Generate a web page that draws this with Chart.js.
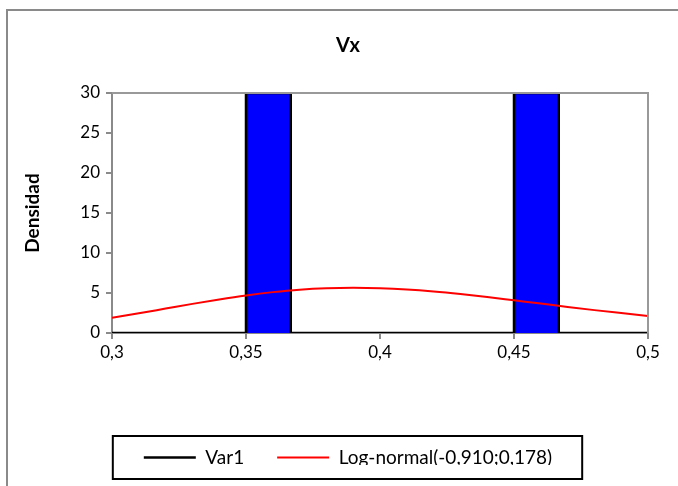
<!DOCTYPE html>
<html>
<head>
<meta charset="utf-8">
<title>Vx</title>
<script src="https://cdn.jsdelivr.net/npm/chart.js@4/dist/chart.umd.min.js"></script>
<style>
  html, body { margin: 0; padding: 0; background: #fff; }
  #wrap { width: 678px; height: 486px; }
</style>
</head>
<body>
<div id="wrap"><canvas id="chart" width="678" height="486"></canvas></div>
<script>
// datos
const xMin = 0.3;
const xMax = 0.5;
const xTickValues = [0.3, 0.35, 0.4, 0.45, 0.5];
const xTickLabels = ['0,3', '0,35', '0,4', '0,45', '0,5'];
const yTickValues = [0, 5, 10, 15, 20, 25, 30];
const yTickLabels = ['0', '5', '10', '15', '20', '25', '30'];

// histograma Var1
const binStarts = [0.35, 0.45];
const binEnds = [0.3667, 0.4667];
const binHeights = [30, 30];

// curva Log-normal(-0,910;0,178)
const curveX = [0.30, 0.31, 0.32, 0.33, 0.34, 0.35, 0.36, 0.37, 0.38, 0.39, 0.40,
                0.41, 0.42, 0.43, 0.44, 0.45, 0.46, 0.47, 0.48, 0.49, 0.50];
const curveY = [1.91, 2.46, 3.05, 3.64, 4.20, 4.70, 5.11, 5.42, 5.60, 5.66, 5.60,
                5.44, 5.19, 4.87, 4.50, 4.09, 3.68, 3.26, 2.86, 2.49, 2.13];

const seriesNames = ['Var1', 'Log-normal(-0,910;0,178)'];

const FONT = 'Lato, "Open Sans", sans-serif';

// contorno escalonado del histograma
const histPoints = [{ x: xMin, y: 0 }];
binStarts.forEach((s, i) => {
  histPoints.push({ x: s, y: 0 });
  histPoints.push({ x: s, y: binHeights[i] });
  histPoints.push({ x: binEnds[i], y: binHeights[i] });
  histPoints.push({ x: binEnds[i], y: 0 });
});
histPoints.push({ x: xMax, y: 0 });

const curvePoints = curveX.map((x, i) => ({ x: x, y: curveY[i] }));

// marco exterior, borde del area y recuadro de la leyenda
const framePlugin = {
  id: 'frame',
  beforeDraw(chart) {
    const ctx = chart.ctx;
    ctx.save();
    ctx.strokeStyle = '#8a8a8a';
    ctx.lineWidth = 2;
    ctx.beginPath();
    ctx.moveTo(7, 486);
    ctx.lineTo(7, 10);
    ctx.lineTo(678, 10);
    ctx.stroke();
    ctx.restore();
  },
  afterDraw(chart) {
    const ctx = chart.ctx;
    const a = chart.chartArea;
    ctx.save();
    ctx.strokeStyle = '#999';
    ctx.lineWidth = 2;
    ctx.beginPath();
    ctx.moveTo(a.left, a.top);
    ctx.lineTo(a.right, a.top);
    ctx.lineTo(a.right, a.bottom);
    ctx.stroke();
    // recuadro leyenda
    const hb = chart.legend.legendHitBoxes;
    if (hb && hb.length) {
      const first = hb[0];
      const last = hb[hb.length - 1];
      const cy = first.top + first.height / 2;
      const left = first.left - 31;
      const right = last.left + last.width + 30;
      ctx.strokeStyle = '#000';
      ctx.lineWidth = 2;
      ctx.strokeRect(left, cy - 21.5, right - left, 43);
    }
    ctx.restore();
  }
};

new Chart(document.getElementById('chart'), {
  type: 'line',
  data: {
    datasets: [
      {
        label: seriesNames[0],
        data: histPoints,
        borderColor: '#000000',
        backgroundColor: '#0000FF',
        borderWidth: 2.5,
        fill: 'origin',
        pointRadius: 0,
        tension: 0,
        pointStyle: 'line',
        order: 1
      },
      {
        label: seriesNames[1],
        data: curvePoints,
        borderColor: '#FF0000',
        backgroundColor: '#FF0000',
        borderWidth: 2,
        fill: false,
        pointRadius: 0,
        cubicInterpolationMode: 'monotone',
        pointStyle: 'line',
        order: 0
      }
    ]
  },
  options: {
    responsive: false,
    animation: false,
    devicePixelRatio: 1,
    layout: { padding: { left: 18, right: 0, top: 0, bottom: 21 } },
    plugins: {
      tooltip: { enabled: false },
      title: {
        display: true,
        text: 'Vx',
        color: '#000',
        font: { family: FONT, size: 20, weight: 'bold' },
        padding: { top: 34, bottom: 35 }
      },
      legend: {
        position: 'bottom',
        maxHeight: 50,
        labels: {
          usePointStyle: true,
          pointStyleWidth: 52,
          padding: 33,
          color: '#000',
          font: { family: FONT, size: 19 },
          sort: (a, b) => a.datasetIndex - b.datasetIndex
        }
      }
    },
    scales: {
      x: {
        type: 'linear',
        min: xMin,
        max: xMax,
        afterBuildTicks: (scale) => { scale.ticks = xTickValues.map(v => ({ value: v })); },
        afterFit: (scale) => { scale.height = 82; },
        ticks: {
          color: '#000',
          font: { family: FONT, size: 17 },
          padding: 3,
          maxRotation: 0,
          callback: (v, i) => xTickLabels[i]
        },
        grid: { display: true, drawOnChartArea: false, drawTicks: true, tickLength: 6, color: '#8a8a8a', lineWidth: 2 },
        border: { display: true, color: '#8a8a8a', width: 2 }
      },
      y: {
        min: 0,
        max: 30,
        afterBuildTicks: (scale) => { scale.ticks = yTickValues.map(v => ({ value: v })); },
        afterFit: (scale) => { scale.width = 94; },
        ticks: {
          color: '#000',
          font: { family: FONT, size: 17 },
          padding: 6,
          callback: (v, i) => yTickLabels[i]
        },
        title: {
          display: true,
          text: 'Densidad',
          color: '#000',
          font: { family: FONT, size: 19, weight: 'bold' },
          padding: { top: 3, bottom: 0 }
        },
        grid: { display: true, drawOnChartArea: false, drawTicks: true, tickLength: 6, color: '#8a8a8a', lineWidth: 2 },
        border: { display: true, color: '#8a8a8a', width: 2 }
      },
      yRight: {
        position: 'right',
        display: true,
        afterFit: (scale) => { scale.width = 30; },
        ticks: { display: false },
        grid: { display: false },
        border: { display: false }
      }
    }
  },
  plugins: [framePlugin]
});
</script>
</body>
</html>
